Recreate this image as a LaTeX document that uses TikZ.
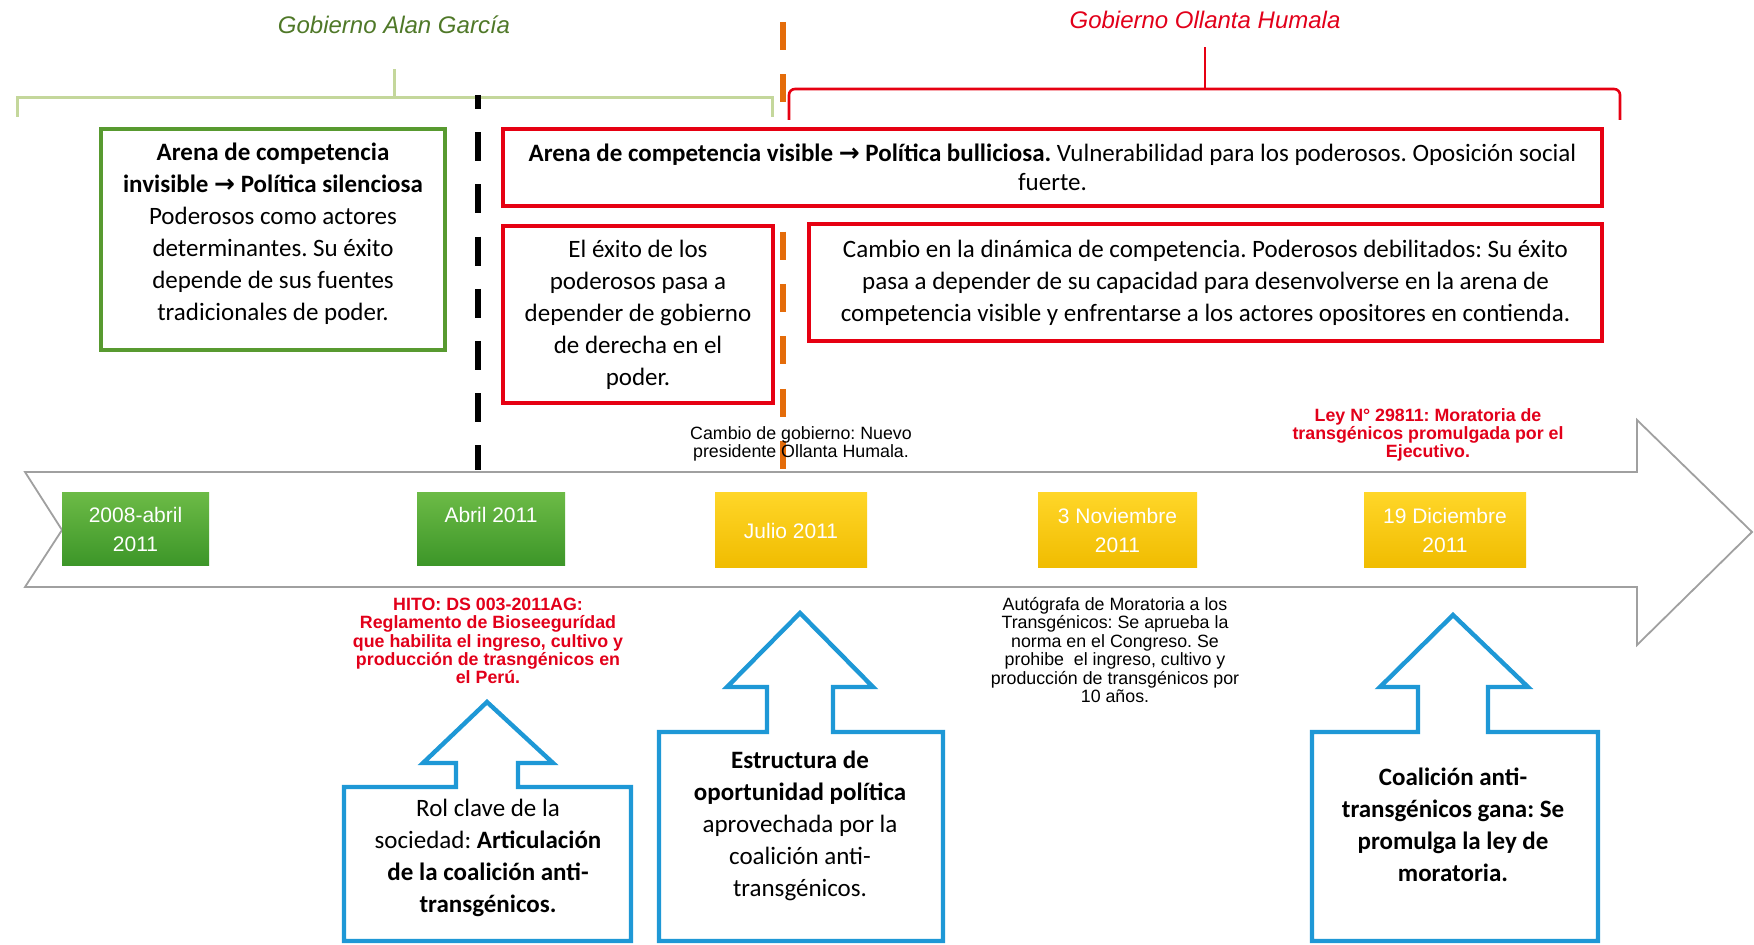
\documentclass[tikz,border=0pt]{standalone}
\usepackage{fontspec}
\setmainfont{Carlito}
\newfontfamily\arialf{Liberation Sans}
\newfontfamily\symf{DejaVu Sans}
\frenchspacing
\definecolor{gbox}{RGB}{88,154,48}
\definecolor{gtitle}{RGB}{79,120,40}
\definecolor{gbrk}{RGB}{196,215,155}
\definecolor{rbox}{RGB}{230,0,18}
\definecolor{rtxt}{RGB}{226,0,26}
\definecolor{orng}{RGB}{228,108,10}
\definecolor{blu}{RGB}{30,152,214}
\definecolor{grnA}{RGB}{108,186,70}
\definecolor{grnB}{RGB}{60,150,40}
\definecolor{yelA}{RGB}{255,214,40}
\definecolor{yelB}{RGB}{240,188,0}
\definecolor{gline}{RGB}{160,160,160}
\newcommand{\arr}{{\symf\bfseries →}}
\tikzset{
  bodytext/.style={align=center, font=\fontsize{12.5}{16}\selectfont, inner sep=0pt},
  greenbox/.style={bodytext, draw=gbox, line width=2.3pt, fill=white},
  redbox/.style={bodytext, draw=rbox, line width=2.3pt, fill=white},
  datebox/.style={rectangle, top color=#1A, bottom color=#1B, draw=none, text=white,
     font=\arialf\fontsize{10.5}{14.5}\selectfont, align=center, inner sep=0pt},
  note/.style={align=center, inner sep=0pt, font=\arialf\fontsize{8.9}{9.2}\selectfont},
  rednote/.style={note, text=rtxt, font=\arialf\bfseries\fontsize{8.9}{9.2}\selectfont},
  callout/.style={draw=blu, line width=2.2pt, fill=white, line join=miter},
  gtitlestyle/.style={font=\arialf\itshape\fontsize{12}{14}\selectfont, inner sep=0pt}
}
\begin{document}
\begin{tikzpicture}[x=0.5pt,y=-0.5pt]
\useasboundingbox (0,0) rectangle (1754,945);

% titles and brackets
\node[gtitlestyle, text=gtitle] (tAG) at (394,25) {Gobierno Alan García};
\node[gtitlestyle, text=rtxt] (tOH) at (1205,20) {Gobierno Ollanta Humala};
\draw[gbrk, line width=1.5pt] (17,117) -- (17,98) -- (772,98) -- (772,117);
\draw[gbrk, line width=1.5pt] (394,98) -- (394,69);
\draw[rbox, line width=1.3pt, rounded corners=3pt] (789,120) -- (789,89) -- (1205,89) -- (1620,89) -- (1620,120);
\draw[rbox, line width=1.3pt] (1205,89) -- (1205,47);

% timeline arrow
\draw[gline, line width=0.9pt, fill=white, line join=miter]
  (25,472) -- (1637,472) -- (1637,420) -- (1752,532) -- (1637,645) -- (1637,587)
  -- (25,587) -- (62,530) -- cycle;

% dashed separators
\draw[black, line width=3.3pt, dash pattern=on 14.5pt off 11.6pt, dash phase=7.5pt] (478,95) -- (478,470);
\draw[orng, line width=2.6pt, dash pattern=on 14pt off 12.2pt] (783,22) -- (783,470);

% upper boxes
\node[greenbox, minimum width=172pt, minimum height=110.5pt] (g1) at (273,239.5)
 {\textbf{Arena de competencia}\\ \textbf{invisible \arr{} Política silenciosa}\\
  Poderosos como actores\\ determinantes. Su éxito\\ depende de sus fuentes\\ tradicionales de poder.\\[-8pt]\mbox{}};
\node[redbox, minimum width=549.5pt, minimum height=38.5pt, font=\fontsize{12.5}{14.5}\selectfont] (r1) at (1052.5,167.5)
 {\textbf{Arena de competencia visible \arr{} Política bulliciosa.} Vulnerabilidad para los poderosos. Oposición social\\ fuerte.};
\node[redbox, minimum width=135pt, minimum height=88.5pt] (r2) at (638,314.5)
 {El éxito de los\\ poderosos pasa a\\ depender de gobierno\\ de derecha en el\\ poder.};
\node[redbox, minimum width=396.5pt, minimum height=58.5pt] (r3) at (1205.5,282.5)
 {Cambio en la dinámica de competencia. Poderosos debilitados: Su éxito\\
  pasa a depender de su capacidad para desenvolverse en la arena de\\
  competencia visible y enfrentarse a los actores opositores en contienda.};

% date boxes
\node[datebox=grn, minimum width=73.5pt, minimum height=36.5pt] (d1) at (135.5,529.5) {2008-abril\\ 2011};
\node[datebox=grn, minimum width=74pt, minimum height=36.5pt] (d2) at (491,529.5) {Abril 2011\\ \mbox{}};
\node[datebox=yel, minimum width=76pt, minimum height=37.5pt] (d3) at (791,530.5) {Julio 2011};
\node[datebox=yel, minimum width=79.5pt, minimum height=37.5pt] (d4) at (1117.5,530.5) {3 Noviembre\\ 2011};
\node[datebox=yel, minimum width=81pt, minimum height=37.5pt] (d5) at (1445,530.5) {19 Diciembre\\ 2011};

% notes
\node[note] (cambio) at (801,444) {Cambio de gobierno: Nuevo\\ presidente Ollanta Humala.};
\node[rednote] (ley) at (1428,435) {Ley N° 29811: Moratoria de\\ transgénicos promulgada por el\\ Ejecutivo.};
\node[rednote] (hito) at (488,641) {HITO: DS 003-2011AG:\\ Reglamento de Bioseegurídad\\ que habilita el ingreso, cultivo y\\ producción de trasngénicos en\\ el Perú.};
\node[note] (autog) at (1115,650) {Autógrafa de Moratoria a los\\ Transgénicos: Se aprueba la\\ norma en el Congreso. Se\\ prohibe \ el ingreso, cultivo y\\ producción de transgénicos por\\ 10 años.};

% blue callouts
\draw[callout] (344,941) -- (344,787) -- (456,787) -- (456,763) -- (423,763) -- (487,702)
  -- (553,763) -- (518,763) -- (518,787) -- (631,787) -- (631,941) -- cycle;
\draw[callout] (659,941) -- (659,732) -- (767,732) -- (767,687) -- (727,687) -- (800,613)
  -- (873,687) -- (833,687) -- (833,732) -- (943,732) -- (943,941) -- cycle;
\draw[callout] (1312,941) -- (1312,732) -- (1418,732) -- (1418,687) -- (1380,687) -- (1453,615)
  -- (1528,687) -- (1488,687) -- (1488,732) -- (1598,732) -- (1598,941) -- cycle;

\node[bodytext] (c1) at (488,858) {Rol clave de la\\ sociedad: \textbf{Articulación}\\ \textbf{de la coalición anti-}\\ \textbf{transgénicos.}};
\node[bodytext] (c2) at (800,826) {\textbf{Estructura de}\\ \textbf{oportunidad política}\\ aprovechada por la\\ coalición anti-\\ transgénicos.};
\node[bodytext, font=\bfseries\fontsize{12.5}{16}\selectfont] (c3) at (1453,825) {Coalición anti-\\ transgénicos gana: Se\\ promulga la ley de\\ moratoria.};
\end{tikzpicture}
\end{document}
